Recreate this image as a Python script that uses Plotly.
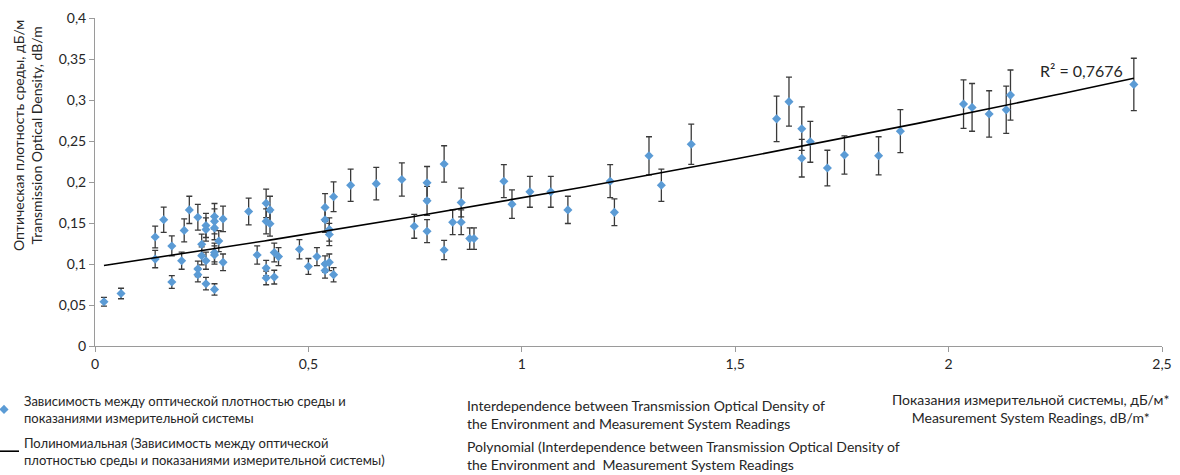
import numpy as np
import plotly.graph_objects as go

# Measurement system readings, dB/m*
readings = [
    0.021, 0.061, 0.141, 0.141, 0.161, 0.180, 0.180, 0.203, 0.209, 0.221,
    0.241, 0.241, 0.241, 0.250, 0.250, 0.260, 0.260, 0.260, 0.260,
    0.280, 0.280, 0.280, 0.280, 0.280, 0.280, 0.290, 0.300, 0.300,
    0.360, 0.380, 0.401, 0.401, 0.401, 0.401, 0.410, 0.410, 0.420, 0.420, 0.430,
    0.479, 0.500, 0.520, 0.539, 0.539, 0.539, 0.539, 0.549, 0.549, 0.549,
    0.559, 0.559, 0.599, 0.659, 0.719, 0.748, 0.778, 0.778, 0.778,
    0.818, 0.818, 0.838, 0.858, 0.858, 0.878, 0.888, 0.958, 0.977,
    1.019, 1.068, 1.108, 1.207, 1.217, 1.298, 1.327, 1.397,
    1.597, 1.626, 1.656, 1.656, 1.676, 1.716, 1.756, 1.836, 1.887,
    2.035, 2.055, 2.095, 2.135, 2.145, 2.434,
]
# Transmission optical density, dB/m
density = [
    0.054, 0.064, 0.106, 0.133, 0.154, 0.122, 0.078, 0.104, 0.141, 0.166,
    0.157, 0.094, 0.087, 0.124, 0.110, 0.147, 0.142, 0.104, 0.076,
    0.158, 0.152, 0.144, 0.114, 0.111, 0.069, 0.128, 0.155, 0.102,
    0.164, 0.111, 0.174, 0.152, 0.095, 0.083, 0.166, 0.149, 0.114, 0.084, 0.109,
    0.118, 0.097, 0.109, 0.169, 0.154, 0.100, 0.092, 0.142, 0.136, 0.102,
    0.182, 0.087, 0.196, 0.198, 0.203, 0.146, 0.199, 0.177, 0.140,
    0.222, 0.117, 0.151, 0.175, 0.151, 0.131, 0.131, 0.201, 0.173,
    0.188, 0.188, 0.166, 0.201, 0.163, 0.232, 0.196, 0.246,
    0.277, 0.298, 0.265, 0.229, 0.249, 0.217, 0.233, 0.232, 0.262,
    0.295, 0.291, 0.283, 0.288, 0.306, 0.319,
]
error_percent = 10  # relative error bars, %

series_name_ru = "Зависимость между оптической плотностью среды и<br>показаниями измерительной системы"
trend_name_ru = "Полиномиальная (Зависимость между оптической<br>плотностью среды и показаниями измерительной системы)"
series_name_en = "Interdependence between Transmission Optical Density of<br>the Environment and Measurement System Readings"
trend_name_en = "Polynomial (Interdependence between Transmission Optical Density of<br>the Environment and\u00a0 Measurement System Readings"
x_title = "Показания измерительной системы, дБ/м*<br>Measurement System Readings, dB/m*"
y_title = "Оптическая плотность среды, дБ/м<br>Transmission Optical Density, dB/m"
r2_text = "R² = 0,7676"

FONT = "Lato, Roboto, sans-serif"
TXT = "#262626"
AX = "#9a9a9a"

xs = np.array(readings)
ys = np.array(density)
coef = np.polyfit(xs, ys, 2)
tx = np.linspace(xs.min(), xs.max(), 200)
ty = np.polyval(coef, tx)

fig = go.Figure()
fig.add_trace(go.Scatter(
    x=readings, y=density, mode="markers", name=series_name_ru, legendgroup="data",
    marker=dict(symbol="diamond", size=7, color="#5B9BD5"),
    error_y=dict(type="percent", value=error_percent, color="#3a3a3a",
                 thickness=1.3, width=3),
))
fig.add_trace(go.Scatter(
    x=tx, y=ty, mode="lines", name=trend_name_ru, legendgroup="trend",
    line=dict(color="black", width=1.6),
))

W, H = 1180, 475
L, R, T, B = 95, 18, 18, 129
pw, ph = W - L - R, H - T - B

def px2paper_x(p):
    return (p - L) / pw

def px2paper_y(p):
    return (H - B - p) / ph

annotations = [
    dict(text=series_name_en, x=px2paper_x(465), y=px2paper_y(395), xref="paper", yref="paper",
         xanchor="left", yanchor="top", align="left", showarrow=False,
         font=dict(size=14, color=TXT, family=FONT)),
    dict(text=trend_name_en, x=px2paper_x(465), y=px2paper_y(436), xref="paper", yref="paper",
         xanchor="left", yanchor="top", align="left", showarrow=False,
         font=dict(size=14, color=TXT, family=FONT)),
    dict(text=x_title, x=px2paper_x(1030), y=px2paper_y(389), xref="paper", yref="paper",
         xanchor="center", yanchor="top", align="center", showarrow=False,
         font=dict(size=14, color=TXT, family=FONT)),
    dict(text=y_title, x=px2paper_x(27), y=px2paper_y(136), xref="paper", yref="paper",
         xanchor="center", yanchor="middle", align="center", showarrow=False, textangle=-90,
         font=dict(size=14, color=TXT, family=FONT)),
    dict(text=r2_text, x=px2paper_x(1081), y=px2paper_y(70), xref="paper", yref="paper",
         xanchor="center", yanchor="middle", showarrow=False,
         font=dict(size=16, color=TXT, family=FONT)),
]

fig.update_layout(
    width=W, height=H,
    margin=dict(l=L, r=R, t=T, b=B, autoexpand=False),
    paper_bgcolor="white", plot_bgcolor="white",
    separators=", ",
    font=dict(family=FONT, size=14, color=TXT),
    showlegend=True,
    legend=dict(x=px2paper_x(-16), y=px2paper_y(386), xanchor="left", yanchor="top",
                orientation="v", font=dict(size=13, color=TXT, family=FONT),
                bgcolor="rgba(0,0,0,0)", itemwidth=30, tracegroupgap=5),
    annotations=annotations,
    xaxis=dict(range=[0, 2.5], dtick=0.5, tick0=0, showgrid=False, zeroline=False,
               showline=True, linecolor=AX, linewidth=1, ticks="outside", ticklen=5,
               tickcolor=AX, tickfont=dict(size=14, color=TXT, family=FONT)),
    yaxis=dict(range=[0, 0.4], dtick=0.05, tick0=0, showgrid=False, zeroline=False,
               showline=True, linecolor=AX, linewidth=1, ticks="outside", ticklen=5,
               tickcolor=AX, tickfont=dict(size=14, color=TXT, family=FONT)),
)

fig.write_html("out.html", config={"displayModeBar": False},
               post_script="document.body.style.margin='0';")
